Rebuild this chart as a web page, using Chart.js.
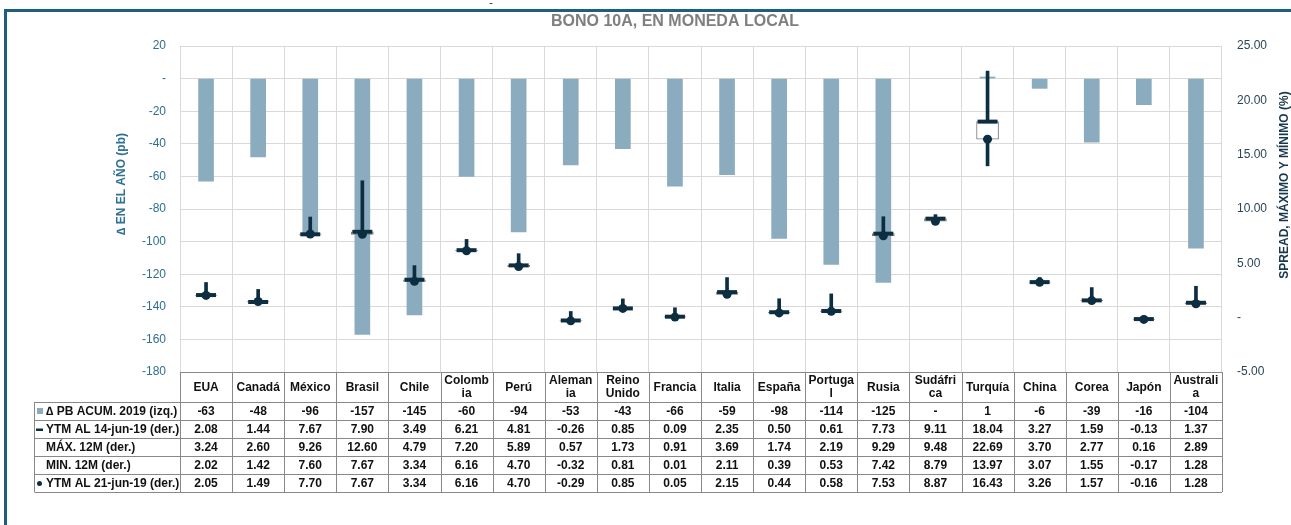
<!DOCTYPE html>
<html>
<head>
<meta charset="utf-8">
<script src="https://cdn.jsdelivr.net/npm/chart.js@4.4.1/dist/chart.umd.min.js"></script>
<style>
  html, body { margin: 0; padding: 0; background: #fff; }
  #wrap { position: relative; width: 1291px; height: 525px; }
</style>
</head>
<body>
<div id="wrap"><canvas id="grafica"></canvas></div>
<script>
// datos
const paises = ['EUA', 'Canadá', 'México', 'Brasil', 'Chile', ['Colomb', 'ia'], 'Perú', ['Aleman', 'ia'],
  ['Reino', 'Unido'], 'Francia', 'Italia', 'España', ['Portuga', 'l'], 'Rusia', ['Sudáfri', 'ca'],
  'Turquía', 'China', 'Corea', 'Japón', ['Australi', 'a']];
const pbAcum = [-63, -48, -96, -157, -145, -60, -94, -53, -43, -66, -59, -98, -114, -125, null, 1, -6, -39, -16, -104];
const ytm14 = [2.08, 1.44, 7.67, 7.90, 3.49, 6.21, 4.81, -0.26, 0.85, 0.09, 2.35, 0.50, 0.61, 7.73, 9.11, 18.04, 3.27, 1.59, -0.13, 1.37];
const max12 = [3.24, 2.60, 9.26, 12.60, 4.79, 7.20, 5.89, 0.57, 1.73, 0.91, 3.69, 1.74, 2.19, 9.29, 9.48, 22.69, 3.70, 2.77, 0.16, 2.89];
const min12 = [2.02, 1.42, 7.60, 7.67, 3.34, 6.16, 4.70, -0.32, 0.81, 0.01, 2.11, 0.39, 0.53, 7.42, 8.79, 13.97, 3.07, 1.55, -0.17, 1.28];
const ytm21 = [2.05, 1.49, 7.70, 7.67, 3.34, 6.16, 4.70, -0.29, 0.85, 0.05, 2.15, 0.44, 0.58, 7.53, 8.87, 16.43, 3.26, 1.57, -0.16, 1.28];

const FUENTE = "'Liberation Sans', Arial, sans-serif";
const colorBarra = '#8aacbe';
const colorOscuro = '#0d2d40';

Chart.defaults.font.family = FUENTE;

const fmtPb = v => (v === null || v === 0) ? '-' : String(v);
const fmtPct = v => v.toFixed(2);

const filas = [
  { nombre: '∆ PB ACUM. 2019 (izq.)', datos: pbAcum, fmt: fmtPb, simbolo: 'cuadro' },
  { nombre: 'YTM AL 14-jun-19 (der.)', datos: ytm14, fmt: fmtPct, simbolo: 'guion' },
  { nombre: 'MÁX. 12M (der.)', datos: max12, fmt: fmtPct, simbolo: null },
  { nombre: 'MIN. 12M (der.)', datos: min12, fmt: fmtPct, simbolo: null },
  { nombre: 'YTM AL 21-jun-19 (der.)', datos: ytm21, fmt: fmtPct, simbolo: 'punto' }
];

// marco, titulo, titulos de ejes y tabla de datos
const tablaPlugin = {
  id: 'tabla',
  afterDraw(chart) {
    const { ctx, chartArea: a } = chart;
    const n = paises.length;
    const w = (a.right - a.left) / n;
    const topHead = a.bottom, hHead = 30, hFila = 18;
    const izqLeyenda = 34.5;
    ctx.save();

    // marco
    ctx.strokeStyle = '#1f5f7e';
    ctx.lineWidth = 3;
    ctx.beginPath();
    ctx.moveTo(5.5, 525);
    ctx.lineTo(5.5, 10.5);
    ctx.lineTo(1291, 10.5);
    ctx.stroke();

    ctx.fillStyle = '#222';
    ctx.font = '11px ' + FUENTE;
    ctx.textAlign = 'center';
    ctx.textBaseline = 'middle';
    ctx.fillText('-', 491, 3);

    // titulo
    ctx.fillStyle = '#7f7f7f';
    ctx.font = 'bold 16px ' + FUENTE;
    ctx.fillText('BONO 10A, EN MONEDA LOCAL', 675, 22);

    // titulos de ejes
    ctx.font = 'bold 12px ' + FUENTE;
    ctx.save();
    ctx.translate(122, 184);
    ctx.rotate(-Math.PI / 2);
    ctx.fillStyle = '#2f7194';
    ctx.fillText('∆ EN EL AÑO (pb)', 0, 0);
    ctx.restore();
    ctx.save();
    ctx.translate(1285, 185);
    ctx.rotate(-Math.PI / 2);
    ctx.fillStyle = '#17384d';
    ctx.fillText('SPREAD, MÁXIMO Y MÍNIMO (%)', 0, 0);
    ctx.restore();

    // tabla
    ctx.strokeStyle = '#888888';
    ctx.lineWidth = 1;
    const fondo = topHead + hHead + hFila * filas.length;
    ctx.beginPath();
    ctx.moveTo(a.left, topHead + 0.5); ctx.lineTo(a.right, topHead + 0.5);
    for (let r = 0; r <= filas.length; r++) {
      const y = Math.round(topHead + hHead + hFila * r) + 0.5;
      ctx.moveTo(izqLeyenda, y); ctx.lineTo(a.right, y);
    }
    for (let i = 0; i <= n; i++) {
      const x = Math.round(a.left + w * i) + 0.5;
      ctx.moveTo(x, topHead); ctx.lineTo(x, fondo);
    }
    ctx.moveTo(izqLeyenda, topHead + hHead); ctx.lineTo(izqLeyenda, fondo);
    ctx.stroke();

    ctx.fillStyle = '#111';
    ctx.font = 'bold 12px ' + FUENTE;
    ctx.textAlign = 'center';
    paises.forEach((p, i) => {
      const cx = a.left + w * (i + 0.5);
      const lineas = Array.isArray(p) ? p : [p];
      const cy = topHead + hHead / 2 + 0.5;
      lineas.forEach((l, k) => {
        ctx.fillText(l, cx, cy + (k - (lineas.length - 1) / 2) * 13);
      });
    });

    filas.forEach((f, r) => {
      const cy = topHead + hHead + hFila * (r + 0.5) + 0.5;
      ctx.textAlign = 'center';
      ctx.fillStyle = '#111';
      f.datos.forEach((v, i) => {
        ctx.fillText(f.fmt(v), a.left + w * (i + 0.5), cy);
      });
      ctx.textAlign = 'left';
      ctx.fillText(f.nombre, 46, cy);
      if (f.simbolo === 'cuadro') {
        ctx.fillStyle = colorBarra;
        ctx.fillRect(37, cy - 3.5, 6, 6);
      } else if (f.simbolo === 'guion') {
        ctx.fillStyle = colorOscuro;
        ctx.fillRect(36, cy - 1, 7, 2.5);
      } else if (f.simbolo === 'punto') {
        ctx.fillStyle = colorOscuro;
        ctx.beginPath();
        ctx.arc(39.5, cy, 2.5, 0, Math.PI * 2);
        ctx.fill();
      }
    });
    ctx.restore();
  }
};

new Chart(document.getElementById('grafica'), {
  type: 'bar',
  data: {
    labels: paises,
    datasets: [
      {
        label: '∆ PB ACUM. 2019 (izq.)',
        data: pbAcum,
        yAxisID: 'y',
        backgroundColor: colorBarra,
        barThickness: 15,
        grouped: false,
        order: 5
      },
      {
        label: 'rango 12M',
        data: max12.map((m, i) => [min12[i], m]),
        yAxisID: 'y2',
        backgroundColor: colorOscuro,
        barThickness: 3,
        grouped: false,
        order: 4
      },
      {
        label: 'cambio semanal',
        data: ytm14.map((o, i) => [ytm21[i], o]),
        yAxisID: 'y2',
        backgroundColor: '#ffffff',
        borderColor: '#7a7a7a',
        borderWidth: 1,
        borderSkipped: false,
        barThickness: 22,
        grouped: false,
        order: 3
      },
      {
        type: 'line',
        label: 'YTM AL 14-jun-19 (der.)',
        data: ytm14,
        yAxisID: 'y2',
        showLine: false,
        pointStyle: 'line',
        pointRadius: 10,
        borderWidth: 4,
        borderColor: colorOscuro,
        backgroundColor: colorOscuro,
        order: 2
      },
      {
        type: 'line',
        label: 'YTM AL 21-jun-19 (der.)',
        data: ytm21,
        yAxisID: 'y2',
        showLine: false,
        pointStyle: 'circle',
        pointRadius: 4.5,
        borderWidth: 0,
        borderColor: colorOscuro,
        backgroundColor: colorOscuro,
        order: 1
      }
    ]
  },
  options: {
    responsive: true,
    maintainAspectRatio: false,
    animation: false,
    layout: { padding: { top: 46, bottom: 153, left: 0, right: 0 } },
    plugins: { legend: { display: false }, tooltip: { enabled: false } },
    scales: {
      x: {
        offset: true,
        grid: { offset: true, color: '#d9d9d9', drawTicks: false },
        border: { display: false },
        ticks: { display: false },
        afterFit: s => { s.height = 0; }
      },
      y: {
        position: 'left',
        min: -180,
        max: 20,
        ticks: {
          stepSize: 20,
          padding: 14,
          color: '#2f6f90',
          font: { size: 12 },
          callback: v => v === 0 ? '-' : v
        },
        grid: { color: '#d9d9d9', drawTicks: false },
        border: { display: false },
        afterFit: s => { s.width = 180; }
      },
      y2: {
        position: 'right',
        min: -5,
        max: 25,
        ticks: {
          stepSize: 5,
          padding: 15,
          color: '#2a4556',
          font: { size: 12 },
          callback: v => v === 0 ? '-' : v.toFixed(2)
        },
        grid: { display: false, drawTicks: false },
        border: { display: false },
        afterFit: s => { s.width = 69; }
      }
    }
  },
  plugins: [tablaPlugin]
});
</script>
</body>
</html>
